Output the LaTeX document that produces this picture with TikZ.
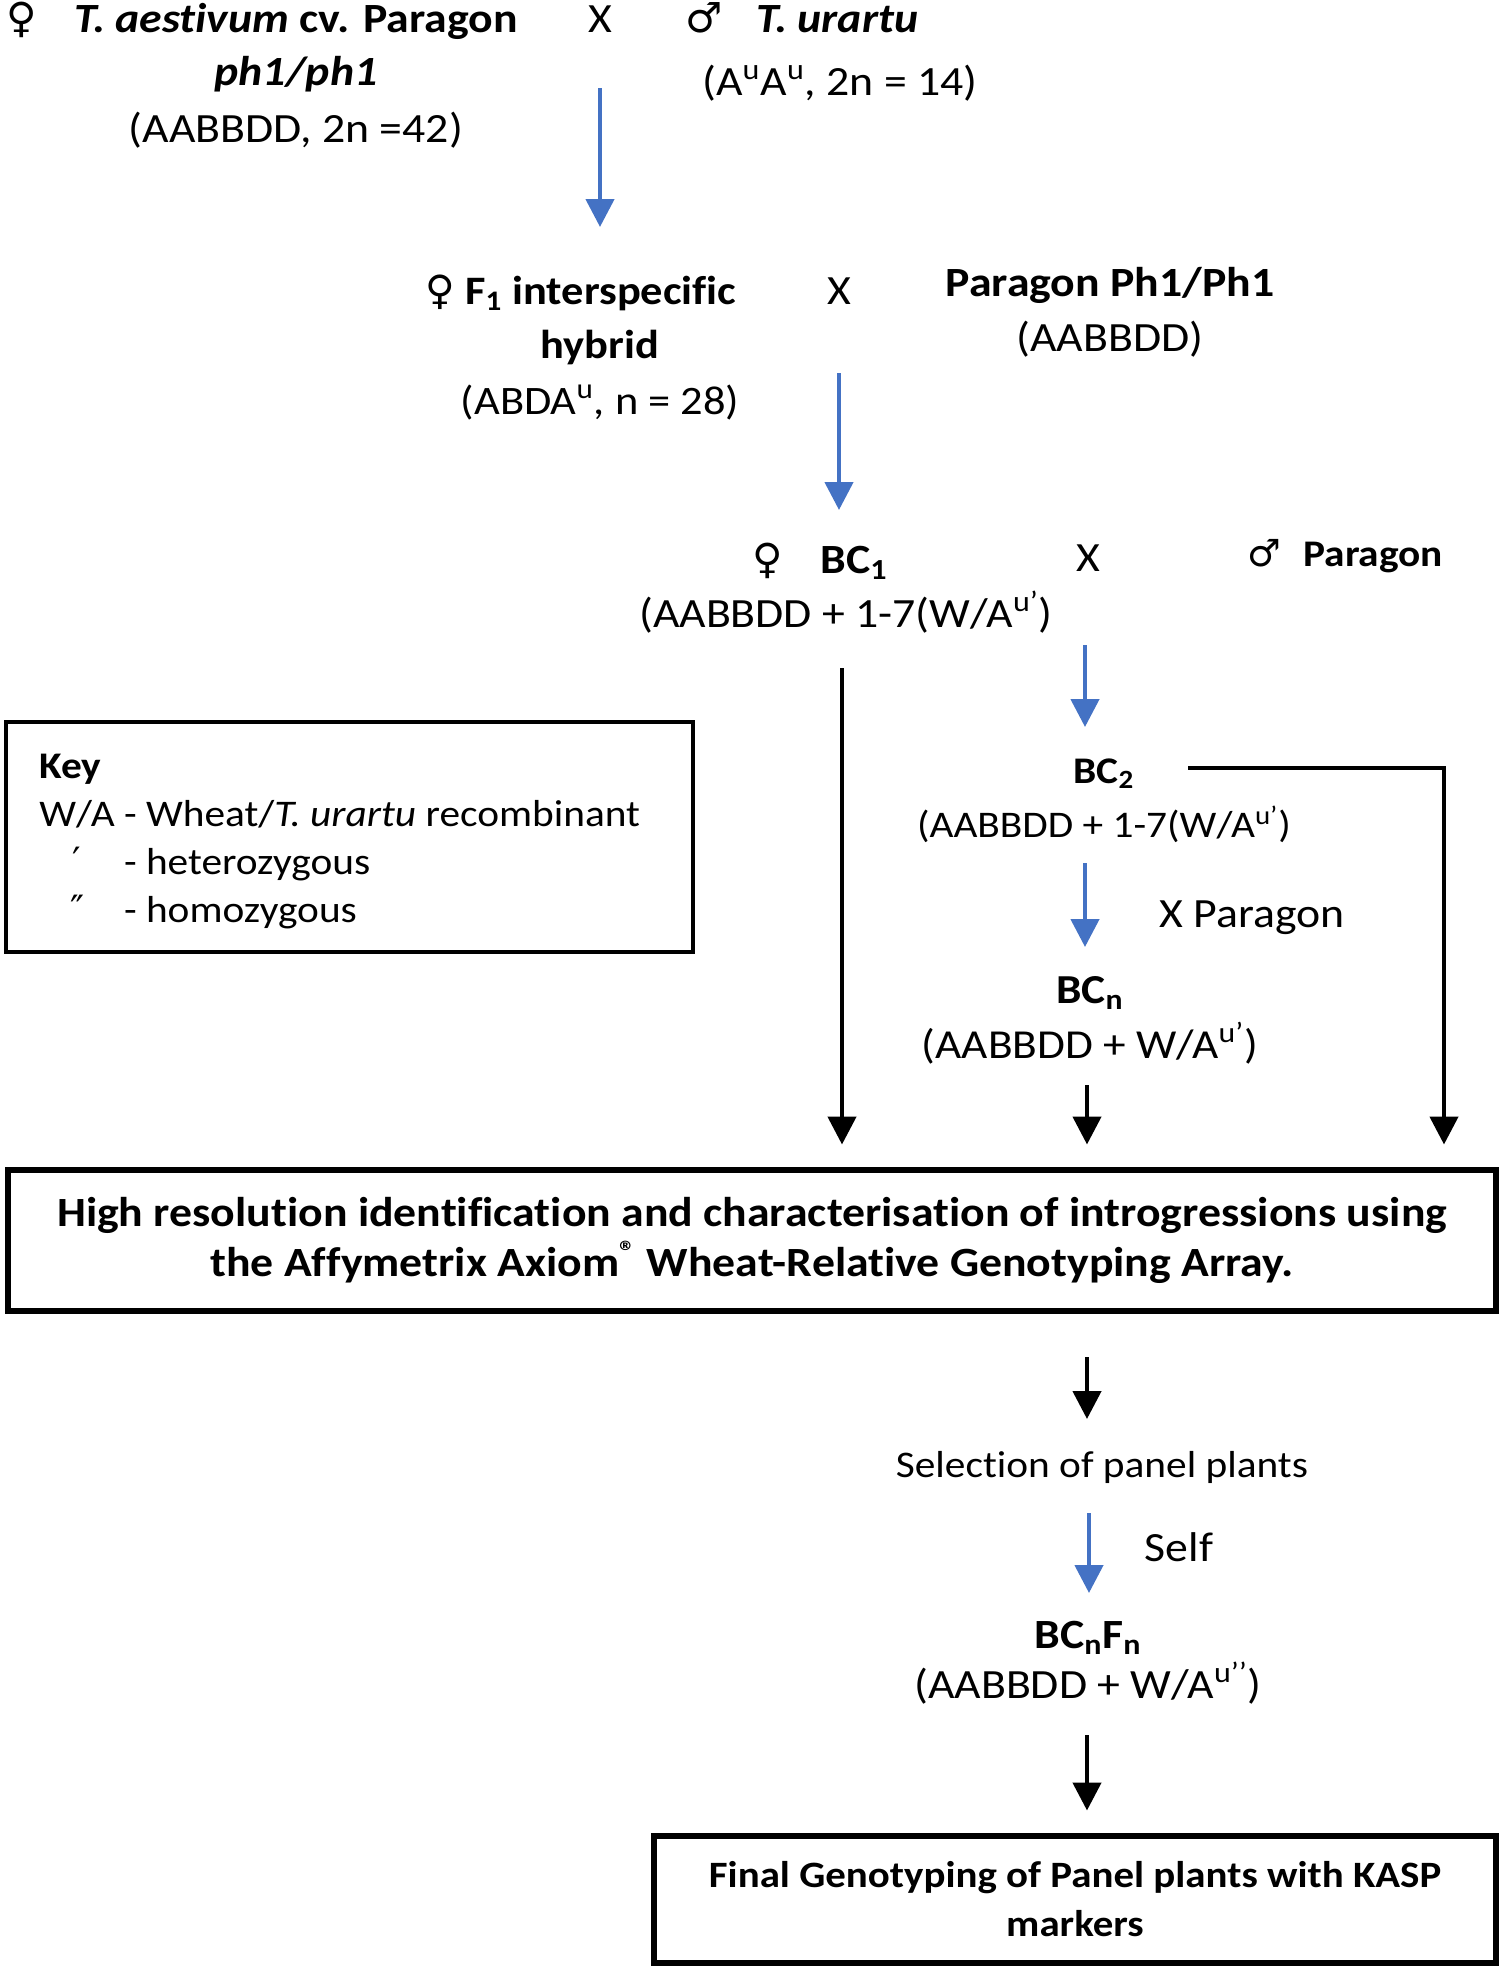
\documentclass[tikz,border=0pt]{standalone}
\usepackage{fontspec}
\setmainfont{Carlito}[FakeStretch=1.1, Ligatures=NoCommon]
\newfontfamily\symfont{DejaVu Sans}
\usetikzlibrary{arrows.meta}
\definecolor{arrowblue}{RGB}{68,114,196}
\newcommand{\fem}{{\symfont ♀}}
\newcommand{\mal}{{\symfont ♂}}

\begin{document}
\begin{tikzpicture}[
    x=0.5pt, y=-0.5pt,
    every node/.style={font=\fontsize{20.8}{28}\selectfont, inner sep=0pt},
    txt/.style={anchor=base, align=center},
    small/.style={font=\fontsize{18.8}{27}\selectfont},
    bluearr/.style={draw=arrowblue, line width=2.25pt, -{Triangle[width=14pt,length=14pt]}},
    blackarr/.style={draw=black, line width=2.25pt, -{Triangle[width=14pt,length=14pt]}},
    intobox/.style={blackarr, shorten >=11pt},
    bigbox/.style={draw, line width=3pt, align=center, font=\fontsize{20.8}{25}\selectfont\bfseries}
    ]
    \useasboundingbox (0,0) rectangle (1505,1972);

    \node[txt] (wheat) at (262,32) {\fem\hspace{0.9em}\textbf{\textit{T. aestivum} cv. Paragon}};
    \node[txt, font=\fontsize{20.8}{28.5}\selectfont] (wheatg) at (296,142) {\textbf{\textit{ph1/ph1}}\\(AABBDD, 2n =42)};
    \node[txt] (cross1) at (600,32) {X};
    \node[txt] (urartu) at (802,32) {\mal\hspace{0.8em}\textbf{\textit{T. urartu}}};
    \node[txt] (urartug) at (840,95) {(A\textsuperscript{u}A\textsuperscript{u}, 2n = 14)};

    \node[txt, font=\fontsize{20.2}{28}\selectfont] (fone) at (581,304) {\fem\ \textbf{F\textsubscript{1} interspecific}};
    \node[txt, font=\fontsize{20.2}{28}\selectfont] (foneg) at (600,414) {\textbf{hybrid}\\(ABDA\textsuperscript{u}, n = 28)};
    \node[txt] (cross2) at (839,304) {X};
    \node[txt, font=\fontsize{20.8}{27.5}\selectfont] (paragon) at (1110,351) {\textbf{Paragon Ph1/Ph1}\\(AABBDD)};

    \node[txt] (bcone) at (820,573) {\fem\hspace{0.9em}\textbf{BC\textsubscript{1}}};
    \node[txt] (bconeg) at (846,627) {(AABBDD + 1-7(W/A\textsuperscript{u’})};
    \node[txt] (cross3) at (1088,571) {X};
    \node[txt, small] (recur) at (1345,566) {\mal\hspace{0.6em}\textbf{Paragon}};

    \node[txt, small] (bctwo) at (1104,837) {\textbf{BC\textsubscript{2}}\\(AABBDD + 1-7(W/A\textsuperscript{u’})};
    \node[txt] (xpar) at (1252,927) {X Paragon};
    \node[txt, font=\fontsize{20.6}{27.5}\selectfont] (bcn) at (1090,1058) {\textbf{BC\textsubscript{n}}\\(AABBDD + W/A\textsuperscript{u’})};

    \node[draw, line width=2pt, minimum width=343.5pt, minimum height=115pt] (key) at (349,836.5) {};
    \node[anchor=base west, font=\fontsize{18.8}{24}\selectfont] (keytext) at (39,778) {\begin{tabular}[t]{@{}c@{ }l@{}}
        \multicolumn{2}{@{}l@{}}{\textbf{Key}}\\
        W/A & - Wheat/\textit{T. urartu} recombinant\\
        {\symfont ′} & - heterozygous\\
        {\symfont ″} & - homozygous
    \end{tabular}};

    \node[bigbox, minimum width=744pt, minimum height=70.5pt] (array) at (752,1240) {High resolution identification and characterisation of introgressions using\\the Affymetrix Axiom\textsuperscript{®} Wheat-Relative Genotyping Array.};

    \node[txt, small] (select) at (1102,1477) {Selection of panel plants};
    \node[txt] (self) at (1179,1561) {Self};
    \node[txt, font=\fontsize{20.8}{25}\selectfont] (bcnfn) at (1088,1698) {\textbf{BC\textsubscript{n}F\textsubscript{n}}\\(AABBDD + W/A\textsuperscript{u’’})};

    \node[bigbox, font=\fontsize{18.6}{24.5}\selectfont\bfseries, minimum width=421pt, minimum height=63.5pt] (final) at (1075,1899) {Final Genotyping of Panel plants with KASP\\markers};

    \coordinate (s1) at (600,88);   \coordinate (e1) at (600,227);
    \coordinate (s2) at (839,373);  \coordinate (e2) at (839,510);
    \coordinate (s3) at (1085,645); \coordinate (e3) at (1085,727);
    \coordinate (s4) at (1085,863); \coordinate (e4) at (1085,947);
    \coordinate (s5) at (1089,1513); \coordinate (e5) at (1089,1593);
    \coordinate (bcone-out) at (842,668);
    \coordinate (bctwo-out) at (1188,768);
    \coordinate (corner) at (1444,768);
    \coordinate (bcn-out) at (1087,1085);
    \coordinate (array-out) at (1087,1357); \coordinate (sel-in) at (1087,1419);
    \coordinate (bcnfn-out) at (1087,1735);

    \draw[bluearr] (s1) -- (e1);
    \draw[bluearr] (s2) -- (e2);
    \draw[bluearr] (s3) -- (e3);
    \draw[bluearr] (s4) -- (e4);
    \draw[bluearr] (s5) -- (e5);

    \draw[intobox] (bcone-out) -- (bcone-out |- array.north);
    \draw[intobox] (bcn-out) -- (bcn-out |- array.north);
    \draw[intobox] (bctwo-out) -- (corner) -- (corner |- array.north);
    \draw[blackarr] (array-out) -- (sel-in);
    \draw[intobox] (bcnfn-out) -- (bcnfn-out |- final.north);
\end{tikzpicture}
\end{document}
